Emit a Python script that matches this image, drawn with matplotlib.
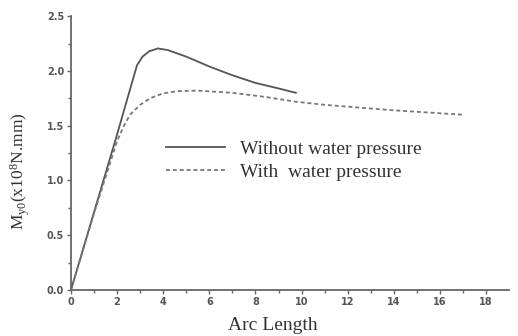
import matplotlib
matplotlib.use("Agg")
import matplotlib.pyplot as plt

# Moment vs arc length, without water pressure
arc_dry = [0.0, 1.0, 2.0, 2.86, 3.1, 3.4, 3.77, 4.2, 5.0, 6.0, 7.0, 8.0, 9.0, 9.75]
m_dry = [0.0, 0.71, 1.42, 2.05, 2.13, 2.18, 2.205, 2.19, 2.13, 2.04, 1.96, 1.89, 1.84, 1.80]

# Moment vs arc length, with water pressure
arc_wet = [0.0, 1.0, 2.0, 2.3, 2.56, 3.0, 3.43, 4.0, 4.6, 5.5, 7.0, 8.5, 9.7, 11.0, 12.5, 14.0, 15.5, 17.0]
m_wet = [0.0, 0.70, 1.36, 1.50, 1.60, 1.69, 1.75, 1.795, 1.815, 1.82, 1.80, 1.76, 1.72, 1.69, 1.665, 1.64, 1.62, 1.60]

x_ticks = [0, 2, 4, 6, 8, 10, 12, 14, 16, 18]
y_ticks = [0.0, 0.5, 1.0, 1.5, 2.0, 2.5]

plt.rcParams["mathtext.fontset"] = "custom"
plt.rcParams["mathtext.rm"] = "Liberation Serif"
plt.rcParams["mathtext.it"] = "Liberation Serif"

fig = plt.figure(figsize=(5.18, 3.36), dpi=100)
ax = fig.add_axes([0.137, 0.137, 0.846, 0.815])

ax.plot(arc_dry, m_dry, color="#555555", lw=1.3, ls="-", label="Without water pressure")
ax.plot(arc_wet, m_wet, color="#777777", lw=1.3, ls=(0, (2.2, 1.6)), label="With  water pressure")

ax.set_xlim(0, 19)
ax.set_ylim(0, 2.5)
ax.set_xticks(x_ticks)
ax.set_yticks(y_ticks)
ax.set_xticks([1, 3, 5, 7, 9, 11, 13, 15, 17], minor=True)
ax.set_yticks([0.25, 0.75, 1.25, 1.75, 2.25], minor=True)
ax.set_yticklabels([f"{v:.1f}" for v in y_ticks])

for s in ["top", "right"]:
    ax.spines[s].set_visible(False)
for s in ["left", "bottom"]:
    ax.spines[s].set_color("#666666")
    ax.spines[s].set_linewidth(1.3)

ax.tick_params(which="major", direction="out", length=3, width=1, color="#666666",
               labelsize=7, labelcolor="#555555", pad=2)
ax.tick_params(which="minor", direction="out", length=2, width=1, color="#666666")
for lbl in ax.get_xticklabels() + ax.get_yticklabels():
    lbl.set_fontweight("bold")

ax.set_xlabel("Arc Length", family="Liberation Serif", fontsize=14, color="#333333")
ax.xaxis.set_label_coords(0.46, -0.1)
ax.set_ylabel(r"M$_{\mathrm{y0}}$(x10$^{8}$N.mm)", family="Liberation Serif", fontsize=12.5,
              color="#333333")
ax.yaxis.set_label_coords(-0.089, 0.435)

ax.legend(loc="upper left", bbox_to_anchor=(0.178, 0.61), frameon=False,
          prop={"family": "Liberation Serif", "size": 14}, handlelength=3.0,
          handletextpad=0.8, labelspacing=0.25, labelcolor="#333333")

fig.savefig("out.png", dpi=100)
